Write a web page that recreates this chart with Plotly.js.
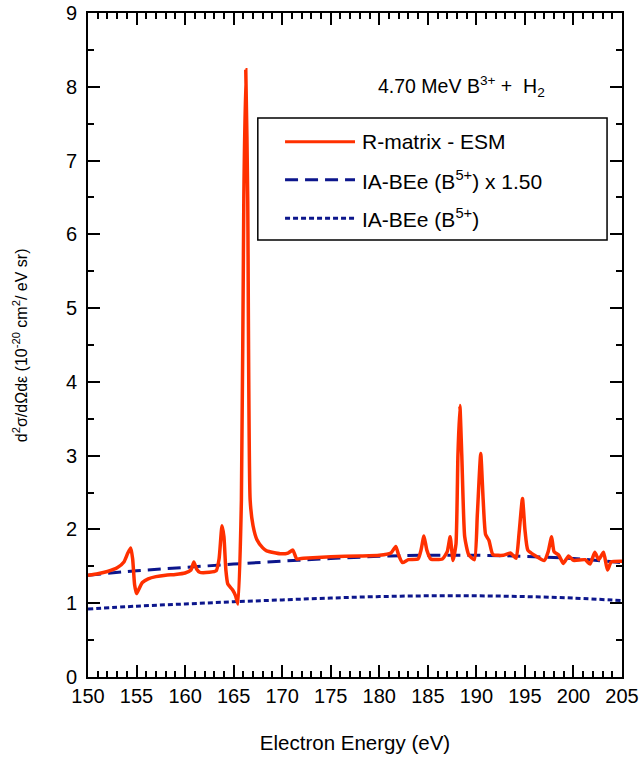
<!DOCTYPE html>
<html>
<head>
<meta charset="utf-8">
<script src="https://cdn.plot.ly/plotly-3.0.1.min.js"></script>
<style>html,body{margin:0;padding:0;background:#fff}#plot{width:642px;height:760px}</style>
</head>
<body>
<div id="plot"></div>
<script>
// R-matrix - ESM
const rmX = [150.0,151.0,152.0,153.0,153.7,154.1,154.4,154.6,154.8,155.0,155.2,155.6,156.2,157.0,158.0,159.0,160.0,160.6,160.9,161.2,161.5,162.5,163.2,163.5,163.8,164.0,164.2,164.4,164.9,165.2,165.45,165.8,166.05,166.25,166.45,166.7,167.0,167.4,168.0,168.4,169.8,170.6,171.1,171.5,172.2,175.0,178.0,180.0,181.2,181.7,182.0,182.4,183.0,184.0,184.3,184.6,184.9,185.3,186.5,187.0,187.3,187.6,187.9,188.1,188.3,188.5,188.8,189.2,189.8,190.1,190.45,190.7,190.95,191.3,191.7,192.8,193.5,193.7,194.1,194.4,194.75,195.0,195.3,196.0,197.0,197.4,197.75,198.0,198.5,198.95,199.5,200.0,201.2,201.7,202.2,202.6,203.1,203.5,203.9,205.0];
const rmY = [1.38,1.40,1.43,1.48,1.56,1.68,1.75,1.60,1.25,1.13,1.18,1.28,1.33,1.36,1.38,1.39,1.41,1.45,1.56,1.46,1.42,1.42,1.44,1.60,2.05,1.90,1.45,1.26,1.18,1.10,0.99,2.40,6.50,8.23,6.50,2.40,2.05,1.86,1.75,1.71,1.67,1.68,1.72,1.60,1.61,1.63,1.64,1.65,1.68,1.77,1.65,1.55,1.59,1.60,1.72,1.91,1.72,1.60,1.60,1.70,1.90,1.58,1.80,3.00,3.68,3.00,1.90,1.66,1.59,2.20,3.03,2.40,1.93,1.85,1.66,1.65,1.68,1.66,1.61,1.95,2.42,2.00,1.72,1.65,1.58,1.70,1.90,1.70,1.65,1.54,1.64,1.58,1.59,1.53,1.69,1.59,1.69,1.45,1.56,1.57];
// IA-BEe (B5+) and scaled x 1.50
const iaX = [150,155,160,165,170,175,180,185,190,195,200,205];
const iaY = [0.92,0.96,0.99,1.02,1.045,1.07,1.09,1.10,1.10,1.09,1.07,1.035];
const iaScaledY = [1.38,1.44,1.485,1.53,1.57,1.605,1.635,1.65,1.65,1.635,1.605,1.55];
// labels
const seriesNames = ['R-matrix - ESM','IA-BEe (B<sup>5+</sup>) x 1.50','IA-BEe (B<sup>5+</sup>)'];
const xTicks = [150,155,160,165,170,175,180,185,190,195,200,205];
const yTicks = [0,1,2,3,4,5,6,7,8,9];
const xTitle = 'Electron Energy (eV)';
const yTitle = 'd<sup>2</sup>σ/dΩdε (10<sup>-20</sup> cm<sup>2</sup>/ eV sr)';
const infoText = '4.70 MeV B<sup>3+</sup> +  H<sub>2</sub>';

const RED = '#ff3000', NAVY = '#0c168c';
const FONT = 'Liberation Sans, Arial, Helvetica, sans-serif';

const traces = [
  {x: iaX, y: iaY, mode:'lines', line:{color:NAVY, width:3, dash:'5px,3px', shape:'spline'}, name: seriesNames[2], showlegend:false},
  {x: iaX, y: iaScaledY, mode:'lines', line:{color:NAVY, width:3, dash:'13px,7px', shape:'spline'}, name: seriesNames[1], showlegend:false},
  {x: rmX, y: rmY, mode:'lines', line:{color:RED, width:3.5, shape:'spline', smoothing:0.5}, name: seriesNames[0], showlegend:false}
];

const axisCommon = {
  showline:true, linewidth:2, linecolor:'#000', mirror:'allticks',
  ticks:'inside', ticklen:12, tickwidth:2, tickcolor:'#000',
  showgrid:false, zeroline:false,
  tickfont:{family:FONT, size:20, color:'#000'}
};

const legendRows = [0.806, 0.749, 0.691];
const dashes = ['solid','13px,7px','5px,3px'];
const colors = [RED, NAVY, NAVY];
const shapes = [
  {type:'rect', xref:'paper', yref:'paper', x0:0.318, x1:0.972, y0:0.658, y1:0.842, line:{color:'#000', width:1.5}, fillcolor:'#fff', layer:'above'}
];
const annotations = [
  {xref:'paper', yref:'paper', x:0.70, y:0.889, text:infoText, showarrow:false, font:{family:FONT, size:19.5, color:'#000'}, xanchor:'center', yanchor:'middle'},
  {xref:'paper', yref:'paper', x:-0.127, y:0.50, text:yTitle, textangle:-90, showarrow:false, font:{family:FONT, size:16, color:'#000'}, xanchor:'center', yanchor:'middle'}
];
for (let i=0;i<3;i++){
  shapes.push({type:'line', xref:'paper', yref:'paper', x0:0.369, x1:0.50, y0:legendRows[i], y1:legendRows[i], line:{color:colors[i], width:3, dash:dashes[i]}, layer:'above'});
  annotations.push({xref:'paper', yref:'paper', x:0.509, y:legendRows[i], text:seriesNames[i], showarrow:false, xanchor:'left', yanchor:'middle', font:{family:FONT, size:21, color:'#000'}});
}

const layout = {
  width:642, height:760,
  margin:{l:88, r:20, t:13, b:83},
  paper_bgcolor:'#fff', plot_bgcolor:'#fff',
  showlegend:false,
  xaxis: Object.assign({}, axisCommon, {
    range:[150,205], tickvals:xTicks, ticktext:xTicks.map(String),
    minor:{dtick:1, tick0:150, ticks:'inside', ticklen:6, tickwidth:2, tickcolor:'#000', showgrid:false},
    title:{text:xTitle, font:{family:FONT, size:20.5, color:'#000'}, standoff:30}
  }),
  yaxis: Object.assign({}, axisCommon, {
    range:[0,9], tickvals:yTicks, ticktext:yTicks.map(String), ticklabelstandoff:5,
    minor:{dtick:0.5, tick0:0, ticks:'inside', ticklen:6, tickwidth:2, tickcolor:'#000', showgrid:false}
  }),
  shapes: shapes,
  annotations: annotations
};

Plotly.newPlot('plot', traces, layout, {displayModeBar:false, staticPlot:true});
</script>
</body>
</html>
